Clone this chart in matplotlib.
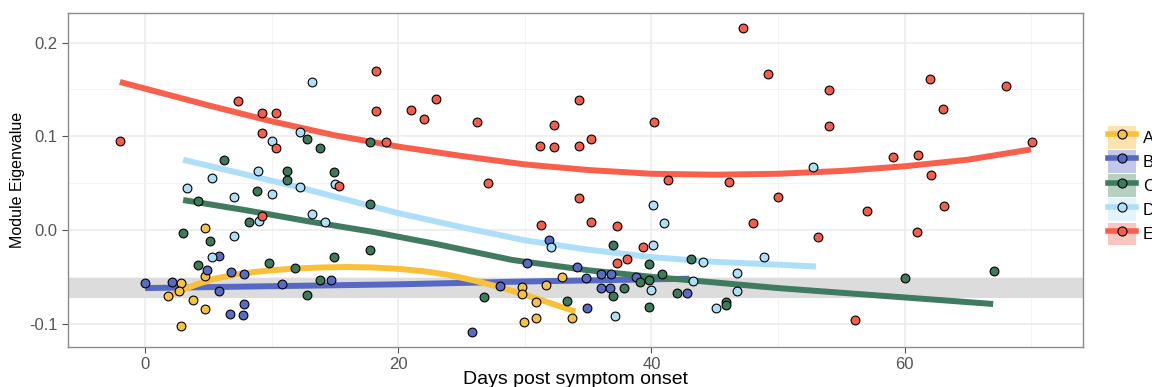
import matplotlib
matplotlib.use('Agg')
import matplotlib.pyplot as plt
from matplotlib.lines import Line2D
from matplotlib.patches import Patch
from matplotlib.legend_handler import HandlerTuple

plt.rcParams['font.family'] = ['Liberation Sans', 'DejaVu Sans']

groups = ["A", "B", "C", "D", "E"]

# observed module eigenvalues (days post symptom onset, value)
a_days = [2.8, 2.7, 1.8, 3.8, 4.7, 2.8, 4.7, 4.7, 29.8, 29.8, 30.9, 29.9, 30.9, 31.7, 32.9, 33.7]
a_vals = [-0.057, -0.065, -0.070, -0.075, -0.084, -0.102, 0.002, -0.049,
          -0.061, -0.068, -0.077, -0.098, -0.094, -0.059, -0.050, -0.094]

b_days = [0.0, 2.1, 5.8, 4.9, 5.8, 6.8, 7.8, 7.8, 6.7, 7.7, 10.8, 14.7, 28.0, 25.8, 30.2,
          31.9, 34.1, 34.8, 36.0, 36.8, 36.0, 36.7, 34.9, 38.8, 42.8]
b_vals = [-0.057, -0.055, -0.028, -0.043, -0.065, -0.045, -0.047, -0.079, -0.090, -0.091,
          -0.058, -0.053, -0.060, -0.109, -0.035, -0.011, -0.039, -0.051, -0.047, -0.047,
          -0.062, -0.062, -0.083, -0.050, -0.067]

c_days = [6.2, 11.2, 11.2, 8.8, 4.2, 8.2, 3.0, 5.1, 4.2, 9.8, 11.8, 13.8, 12.8, 14.9, 17.8,
          17.8, 12.8, 13.8, 17.8, 14.9, 26.8, 33.3, 37.0, 39.8, 37.0, 37.8, 39.1, 39.8, 39.8,
          40.8, 42.0, 43.1, 45.9, 45.9, 60.0, 67.1]
c_vals = [0.075, 0.063, 0.053, 0.042, 0.031, 0.009, -0.003, -0.012, -0.037, -0.035, -0.041,
          -0.053, -0.069, 0.062, 0.028, -0.021, 0.097, 0.088, 0.094, -0.029, -0.071, -0.076,
          -0.016, -0.036, -0.070, -0.062, -0.055, -0.053, -0.082, -0.047, -0.067, -0.031,
          -0.077, -0.080, -0.051, -0.044]

d_days = [3.3, 5.3, 8.9, 7.0, 10.0, 12.2, 10.0, 12.2, 13.2, 14.2, 9.0, 7.0, 5.3, 15.0, 13.2,
          32.1, 40.1, 41.0, 40.1, 43.3, 44.1, 40.0, 37.1, 45.1, 46.8, 46.8, 48.9, 52.8]
d_vals = [0.045, 0.055, 0.063, 0.035, 0.038, 0.046, 0.095, 0.105, 0.017, 0.008, 0.010, -0.006,
          -0.029, 0.049, 0.158, -0.018, 0.027, 0.007, -0.016, -0.054, -0.034, -0.064, -0.092,
          -0.083, -0.046, -0.065, -0.029, 0.067]

e_days = [-2.0, 7.3, 9.2, 10.3, 9.2, 10.3, 15.3, 9.2, 18.2, 18.2, 19.0, 21.0, 22.0, 23.0,
          26.2, 27.1, 31.2, 32.3, 32.3, 34.3, 34.3, 35.2, 31.3, 34.3, 35.2, 37.3, 37.3, 38.1,
          39.3, 40.2, 41.3, 47.2, 49.2, 46.1, 48.0, 54.0, 54.0, 50.0, 59.1, 61.1, 62.1, 62.0,
          63.0, 63.1, 57.0, 53.2, 61.0, 56.1, 68.0, 70.1]
e_vals = [0.095, 0.138, 0.125, 0.125, 0.104, 0.088, 0.047, 0.015, 0.170, 0.127, 0.094, 0.128,
          0.118, 0.140, 0.115, 0.050, 0.090, 0.089, 0.112, 0.090, 0.139, 0.097, 0.005, 0.034,
          0.008, 0.004, -0.035, -0.031, -0.018, 0.115, 0.053, 0.216, 0.166, 0.051, 0.007,
          0.149, 0.111, 0.035, 0.078, 0.080, 0.059, 0.161, 0.129, 0.026, 0.020, -0.007,
          -0.002, -0.096, 0.154, 0.094]

# smoothed trend per group
a_trend_days = [1.7, 2.5, 3.3, 4.3, 5.5, 7, 8.5, 10, 12, 14, 16, 18, 20, 22, 24, 26, 28, 30, 32, 34]
a_trend_vals = [-0.071, -0.067, -0.062, -0.057, -0.052, -0.048, -0.045, -0.043, -0.041,
                -0.040, -0.0395, -0.040, -0.0415, -0.044, -0.048, -0.054, -0.061, -0.069,
                -0.078, -0.087]
b_trend_days = [0, 10, 20, 30, 43]
b_trend_vals = [-0.062, -0.060, -0.058, -0.055, -0.052]
c_trend_days = [3, 8, 13, 18, 23, 29, 35, 40, 45, 50, 55, 60, 67]
c_trend_vals = [0.032, 0.021, 0.009, -0.002, -0.015, -0.032, -0.043, -0.050, -0.056,
                -0.062, -0.067, -0.072, -0.079]
d_trend_days = [3, 8, 12, 16, 20, 25, 30, 35, 40, 45, 50, 53]
d_trend_vals = [0.075, 0.059, 0.046, 0.032, 0.018, 0.003, -0.011, -0.021, -0.029, -0.034,
                -0.037, -0.039]
e_trend_days = [-2, 5, 10, 15, 20, 25, 30, 35, 40, 45, 50, 55, 60, 65, 70]
e_trend_vals = [0.158, 0.133, 0.116, 0.101, 0.089, 0.079, 0.070, 0.064, 0.060, 0.059,
                0.060, 0.063, 0.068, 0.075, 0.086]

band_low, band_high = -0.0725, -0.051

x_ticks = [0, 20, 40, 60]
y_ticks = [-0.1, 0.0, 0.1, 0.2]
y_tick_labels = ["-0.1", "0.0", "0.1", "0.2"]

point_colors = ["#F5C242", "#5A6BC4", "#3C7A5A", "#AEDFF7", "#F55E4A"]
line_colors = ["#FBC03A", "#5468C4", "#3F7B5E", "#ADDFFB", "#F9604B"]
key_fills = ["#FDE3AE", "#C3C8EA", "#B6D0C2", "#E3F4FC", "#FCC5BD"]

series = {
    "A": (a_days, a_vals, a_trend_days, a_trend_vals),
    "B": (b_days, b_vals, b_trend_days, b_trend_vals),
    "C": (c_days, c_vals, c_trend_days, c_trend_vals),
    "D": (d_days, d_vals, d_trend_days, d_trend_vals),
    "E": (e_days, e_vals, e_trend_days, e_trend_vals),
}

fig = plt.figure(figsize=(11.52, 3.87), dpi=100)
ax = fig.add_axes([68 / 1152, 40 / 387, 1015 / 1152, 334 / 387])

ax.axhspan(band_low, band_high, color="#DCDCDC", zorder=1, lw=0)

line_order = ["B", "A", "C", "D", "E"]
for g in line_order:
    i = groups.index(g)
    _, _, td, tv = series[g]
    ax.plot(td, tv, color=line_colors[i], lw=4.3, solid_capstyle="butt",
            solid_joinstyle="round", zorder=2)

for i, g in enumerate(groups):
    xs, ys, _, _ = series[g]
    ax.scatter(xs, ys, s=40, color=point_colors[i], edgecolor="black",
               linewidth=0.8, zorder=3)

ax.set_xlim(-6.1, 74.1)
ax.set_ylim(-0.1249, 0.2316)
ax.set_xticks(x_ticks)
ax.set_xticks([10, 30, 50, 70], minor=True)
ax.set_yticks(y_ticks)
ax.set_yticklabels(y_tick_labels)
ax.set_yticks([-0.05, 0.05, 0.15], minor=True)
ax.grid(which="major", color="#EBEBEB", lw=1.1, zorder=0)
ax.grid(which="minor", color="#F3F3F3", lw=0.7, zorder=0)
ax.set_axisbelow(True)
ax.tick_params(which="major", length=4, color="#555555", labelsize=12, labelcolor="#555555")
ax.tick_params(which="minor", length=0)
for sp in ax.spines.values():
    sp.set_color("#8C8C8C")
    sp.set_linewidth(1)

ax.set_xlabel("Days post symptom onset", fontsize=14)
ax.set_ylabel("Module Eigenvalue", fontsize=11.5)
ax.xaxis.set_label_coords(0.5, -0.072)
ax.yaxis.set_label_coords(-0.042, 0.5)

handles = []
for i, g in enumerate(groups):
    handles.append((
        Patch(facecolor=key_fills[i], edgecolor="none"),
        Line2D([], [], color=line_colors[i], lw=4),
        Line2D([], [], ls="none", marker="o", ms=6.5, mfc=point_colors[i],
               mec="black", mew=0.8),
    ))
fig.legend(handles, groups, loc="upper left", bbox_to_anchor=(1108 / 1152, 1 - 126 / 387),
           frameon=False, fontsize=12, handlelength=1.7, handleheight=1.7,
           labelspacing=0.1, handletextpad=0.4, borderpad=0, borderaxespad=0,
           handler_map={tuple: HandlerTuple(ndivide=1)})

fig.savefig("out.png", dpi=100)
